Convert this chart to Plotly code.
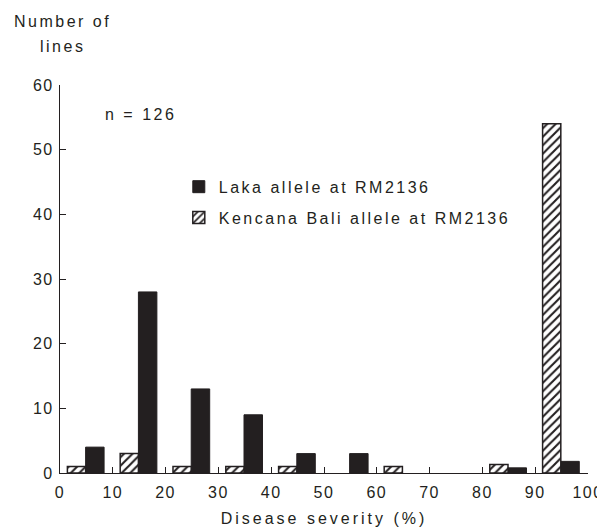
import plotly.graph_objects as go

# Data
bin_starts = [0, 10, 20, 30, 40, 50, 60, 70, 80, 90]
laka = [4, 28, 13, 9, 3, 3, None, None, 0.8, 1.8]
kencana = [1, 3, 1, 1, 1, None, 1, None, 1.3, 54]
x_ticks = [0, 10, 20, 30, 40, 50, 60, 70, 80, 90, 100]
y_ticks = [0, 10, 20, 30, 40, 50, 60]

FONT = "Liberation Sans, Arial, Helvetica, sans-serif"
TXT = "#231f20"


def sp(s, ls=2.5):
    return f'<span style="letter-spacing:{ls}px">{s}</span>'


fig = go.Figure()
fig.add_trace(go.Bar(
    x=bin_starts, y=laka, name=sp("Laka allele at RM2136"),
    offset=4.85, width=3.5,
    marker=dict(color="#231f20", line=dict(color="#231f20", width=1)),
    legendgroup="a",
))
fig.add_trace(go.Bar(
    x=bin_starts, y=kencana, name=sp("Kencana Bali allele at RM2136"),
    offset=1.4, width=3.45,
    marker=dict(color="white", line=dict(color="#231f20", width=1.5),
                pattern=dict(shape="/", fgcolor="#231f20", bgcolor="white",
                             size=6, solidity=0.35)),
    legendgroup="b",
))

axis_common = dict(
    showline=True, linecolor="#231f20", linewidth=1.2,
    ticks="inside", ticklen=6, tickcolor="#231f20", tickwidth=1.2,
    showgrid=False, zeroline=False, automargin=False,
    tickfont=dict(family=FONT, size=16, color=TXT),
)

fig.update_layout(
    template="none",
    width=597, height=522,
    margin=dict(l=52, r=17, t=77, b=57, pad=0),
    plot_bgcolor="white", paper_bgcolor="white",
    barmode="overlay",
    font=dict(family=FONT, size=16, color=TXT),
    xaxis=dict(range=[0, 100], tickvals=x_ticks,
               ticktext=[sp(str(v), 1.5) for v in x_ticks],
               ticklabelstandoff=5,
               title=dict(text=sp("Disease severity (%)", 3), font=dict(family=FONT, size=16, color=TXT),
                          standoff=12),
               **axis_common),
    yaxis=dict(range=[0, 60], tickvals=y_ticks,
               ticktext=[sp(str(v), 1.5) for v in y_ticks],
               ticklabelstandoff=2,
               **axis_common),
    legend=dict(x=0.225, y=0.7815, xanchor="left", yanchor="top",
                bgcolor="rgba(0,0,0,0)", traceorder="grouped", tracegroupgap=7,
                font=dict(family=FONT, size=16, color=TXT)),
    showlegend=True,
)

fig.add_annotation(text=sp("Number of"), xref="paper", yref="paper", x=0.004, y=1.1637,
                   showarrow=False, xanchor="center", yanchor="middle")
fig.add_annotation(text=sp("lines"), xref="paper", yref="paper", x=0.004, y=1.098,
                   showarrow=False, xanchor="center", yanchor="middle")
fig.add_annotation(text=sp("n = 126"), xref="x", yref="y", x=15.3, y=55.5,
                   showarrow=False, xanchor="center", yanchor="middle")

fig.write_html("out.html")
